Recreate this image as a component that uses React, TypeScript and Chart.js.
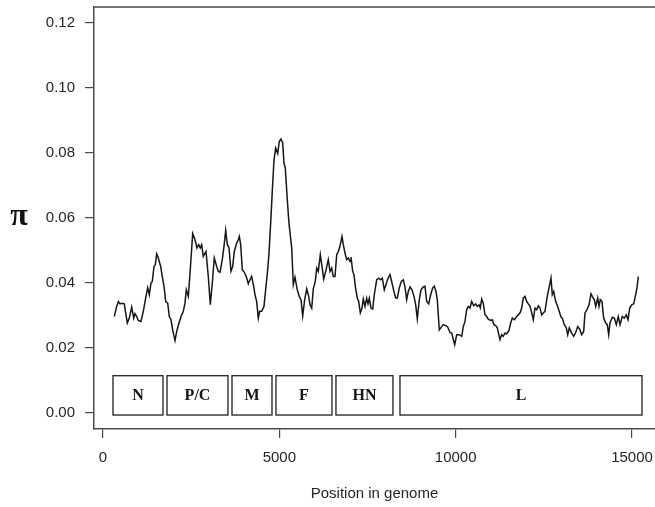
import React, { useEffect, useRef } from "react";
import { Chart, registerables } from "chart.js";

Chart.register(...registerables);

// Genome position (bp) of each sliding-window point
const positions = [
  320, 388, 434, 482, 530, 604, 644, 689, 746, 814,
  870, 907, 956, 1001, 1077, 1143, 1211, 1267, 1313, 1361,
  1398, 1446, 1483, 1523, 1568, 1636, 1681, 1730, 1778, 1835,
  1880, 1928, 1976, 2042, 2090, 2155, 2212, 2277, 2325, 2362,
  2419, 2475, 2543, 2609, 2665, 2714, 2759, 2799, 2844, 2921,
  2986, 3043, 3099, 3156, 3224, 3269, 3318, 3383, 3431, 3479,
  3525, 3573, 3629, 3678, 3723, 3791, 3836, 3865, 3905, 3950,
  4007, 4063, 4120, 4168, 4216, 4273, 4310, 4358, 4404, 4443,
  4500, 4565, 4622, 4670, 4707, 4755, 4800, 4849, 4897, 4954,
  4999, 5047, 5095, 5132, 5169, 5226, 5266, 5283, 5351, 5396,
  5444, 5509, 5566, 5614, 5663, 5719, 5776, 5833, 5869, 5918,
  5963, 6020, 6060, 6105, 6162, 6210, 6258, 6315, 6388, 6437,
  6485, 6530, 6578, 6627, 6672, 6720, 6777, 6814, 6862, 6910,
  6956, 7004, 7032, 7080, 7117, 7154, 7211, 7251, 7296, 7344,
  7381, 7429, 7477, 7514, 7551, 7599, 7647, 7693, 7761, 7818,
  7874, 7920, 7976, 8024, 8073, 8138, 8195, 8251, 8300, 8345,
  8402, 8458, 8515, 8563, 8611, 8657, 8705, 8762, 8818, 8867,
  8912, 8969, 9017, 9082, 9130, 9179, 9235, 9292, 9349, 9394,
  9442, 9479, 9536, 9604, 9649, 9717, 9774, 9839, 9888, 9933,
  9973, 10029, 10094, 10171, 10216, 10264, 10313, 10358, 10406, 10455,
  10511, 10568, 10613, 10661, 10698, 10738, 10783, 10832, 10880, 10925,
  10993, 11039, 11087, 11135, 11180, 11209, 11257, 11305, 11350, 11399,
  11447, 11512, 11560, 11606, 11663, 11731, 11776, 11833, 11872, 11918,
  11966, 12014, 12060, 12108, 12156, 12201, 12249, 12297, 12343, 12391,
  12439, 12485, 12533, 12590, 12646, 12703, 12740, 12780, 12836, 12893,
  12950, 12987, 13024, 13080, 13137, 13177, 13222, 13290, 13347, 13404,
  13460, 13517, 13574, 13630, 13667, 13724, 13781, 13837, 13874, 13931,
  13971, 14027, 14064, 14101, 14149, 14197, 14254, 14299, 14339, 14376,
  14441, 14498, 14555, 14611, 14660, 14725, 14782, 14838, 14887, 14935,
  14991, 15048, 15094, 15142, 15179,
];

// Nucleotide diversity (pi) at each position
const piValues = [
  0.0297, 0.0328, 0.0343, 0.0336, 0.0338, 0.0336, 0.0308, 0.0277, 0.0292, 0.0326,
  0.0292, 0.0306, 0.0297, 0.0285, 0.0282, 0.0313, 0.0354, 0.0385, 0.0364, 0.0400,
  0.0405, 0.0451, 0.0456, 0.0490, 0.0477, 0.0451, 0.0420, 0.0390, 0.0343, 0.0338,
  0.0297, 0.0287, 0.0256, 0.0223, 0.0251, 0.0277, 0.0297, 0.0313, 0.0338, 0.0379,
  0.0359, 0.0441, 0.0552, 0.0533, 0.0508, 0.0518, 0.0508, 0.0518, 0.0482, 0.0497,
  0.0420, 0.0333, 0.0400, 0.0477, 0.0451, 0.0436, 0.0433, 0.0472, 0.0513, 0.0562,
  0.0518, 0.0508, 0.0436, 0.0451, 0.0497, 0.0523, 0.0533, 0.0543, 0.0518, 0.0441,
  0.0433, 0.0420, 0.0398, 0.0410, 0.0420, 0.0390, 0.0364, 0.0343, 0.0292, 0.0313,
  0.0313, 0.0328, 0.0390, 0.0441, 0.0492, 0.0585, 0.0682, 0.0779, 0.0815, 0.0798,
  0.0836, 0.0843, 0.0831, 0.0769, 0.0754, 0.0656, 0.0595, 0.0574, 0.0508, 0.0395,
  0.0418, 0.0379, 0.0359, 0.0349, 0.0299, 0.0349, 0.0382, 0.0359, 0.0333, 0.0323,
  0.0382, 0.0405, 0.0446, 0.0436, 0.0487, 0.0451, 0.0412, 0.0436, 0.0472, 0.0436,
  0.0446, 0.0420, 0.0420, 0.0487, 0.0497, 0.0513, 0.0543, 0.0518, 0.0492, 0.0472,
  0.0477, 0.0466, 0.0480, 0.0436, 0.0426, 0.0390, 0.0354, 0.0343, 0.0308, 0.0323,
  0.0351, 0.0328, 0.0353, 0.0336, 0.0353, 0.0323, 0.0320, 0.0364, 0.0410, 0.0415,
  0.0410, 0.0415, 0.0379, 0.0395, 0.0412, 0.0426, 0.0400, 0.0374, 0.0354, 0.0354,
  0.0385, 0.0405, 0.0410, 0.0388, 0.0349, 0.0374, 0.0388, 0.0379, 0.0359, 0.0333,
  0.0290, 0.0349, 0.0379, 0.0388, 0.0390, 0.0343, 0.0336, 0.0364, 0.0385, 0.0390,
  0.0374, 0.0349, 0.0256, 0.0266, 0.0272, 0.0269, 0.0265, 0.0248, 0.0246, 0.0226,
  0.0210, 0.0241, 0.0241, 0.0236, 0.0266, 0.0282, 0.0318, 0.0328, 0.0323, 0.0343,
  0.0330, 0.0336, 0.0328, 0.0333, 0.0323, 0.0351, 0.0338, 0.0302, 0.0297, 0.0289,
  0.0285, 0.0287, 0.0272, 0.0269, 0.0262, 0.0248, 0.0226, 0.0241, 0.0236, 0.0246,
  0.0244, 0.0254, 0.0277, 0.0292, 0.0287, 0.0297, 0.0302, 0.0310, 0.0323, 0.0354,
  0.0359, 0.0343, 0.0336, 0.0328, 0.0308, 0.0287, 0.0323, 0.0318, 0.0330, 0.0323,
  0.0302, 0.0308, 0.0313, 0.0354, 0.0385, 0.0415, 0.0364, 0.0374, 0.0343, 0.0328,
  0.0308, 0.0295, 0.0292, 0.0272, 0.0262, 0.0241, 0.0262, 0.0246, 0.0236, 0.0248,
  0.0266, 0.0258, 0.0241, 0.0251, 0.0308, 0.0318, 0.0333, 0.0367, 0.0359, 0.0349,
  0.0328, 0.0354, 0.0328, 0.0349, 0.0343, 0.0292, 0.0277, 0.0272, 0.0241, 0.0277,
  0.0295, 0.0292, 0.0272, 0.0297, 0.0272, 0.0297, 0.0292, 0.0302, 0.0287, 0.0323,
  0.0333, 0.0336, 0.0359, 0.0385, 0.0420,
];

// Gene annotation boxes
const geneNames = ["N", "P/C", "M", "F", "HN", "L"];
const geneStarts = [284, 1815, 3658, 4905, 6606, 8421];
const geneEnds = [1701, 3544, 4792, 6493, 8222, 15283];
const geneBoxLow = -0.0006;
const geneBoxHigh = 0.0115;

// Axis ticks
const xTickValues = [0, 5000, 10000, 15000];
const yTickValues = [0, 0.02, 0.04, 0.06, 0.08, 0.1, 0.12];
const xRange = [-255, 15794];
const yRange = [-0.0049, 0.1249];

const SANS = '"Liberation Sans", Arial, Helvetica, sans-serif';
const SERIF = '"Liberation Serif", "Times New Roman", serif';
const AXIS_COLOR = "#4a4a4a";
const TEXT_COLOR = "#262626";

const decorPlugin = {
  id: "decor",
  afterDraw(chart: any) {
    const { ctx, chartArea, scales } = chart;
    const xs = scales.x;
    const ys = scales.y;
    ctx.save();
    // top frame line
    ctx.strokeStyle = AXIS_COLOR;
    ctx.lineWidth = 1.5;
    ctx.beginPath();
    ctx.moveTo(chartArea.left, chartArea.top);
    ctx.lineTo(chartArea.right, chartArea.top);
    ctx.stroke();

    // gene boxes
    const yTop = ys.getPixelForValue(geneBoxHigh);
    const yBot = ys.getPixelForValue(geneBoxLow);
    ctx.strokeStyle = "#2e2e2e";
    ctx.lineWidth = 1.4;
    ctx.fillStyle = "#151515";
    ctx.font = `bold 16px ${SERIF}`;
    ctx.textAlign = "center";
    ctx.textBaseline = "middle";
    geneNames.forEach((name, i) => {
      const x1 = xs.getPixelForValue(geneStarts[i]);
      const x2 = xs.getPixelForValue(geneEnds[i]);
      ctx.strokeRect(x1, yTop, x2 - x1, yBot - yTop);
      ctx.fillText(name, (x1 + x2) / 2, (yTop + yBot) / 2 + 1);
    });

    // pi axis label
    ctx.font = `bold 32px ${SERIF}`;
    ctx.fillStyle = "#111";
    ctx.fillText("\u03C0", 19, ys.getPixelForValue(0.06) - 1);
    ctx.restore();
  },
};

export default function App() {
  const canvasRef = useRef<HTMLCanvasElement | null>(null);

  useEffect(() => {
    const canvas = canvasRef.current;
    if (!canvas) return;
    const chart = new Chart(canvas, {
      type: "line",
      data: {
        datasets: [
          {
            data: positions.map((p, i) => ({ x: p, y: piValues[i] })),
            borderColor: "#161616",
            borderWidth: 1.5,
            pointRadius: 0,
            tension: 0,
            fill: false,
          },
        ],
      },
      options: {
        animation: false,
        responsive: false,
        devicePixelRatio: 1,
        layout: { padding: { top: 7, left: 0, right: 5, bottom: 0 } },
        plugins: {
          legend: { display: false },
          tooltip: { enabled: false },
        },
        scales: {
          x: {
            type: "linear",
            min: xRange[0],
            max: xRange[1],
            afterBuildTicks: (s: any) => {
              s.ticks = xTickValues.map((v) => ({ value: v }));
            },
            afterFit: (s: any) => {
              s.height = 78;
              s.paddingLeft = 0;
              s.paddingRight = 0;
            },
            grid: {
              drawOnChartArea: false,
              drawTicks: true,
              tickLength: 9,
              color: AXIS_COLOR,
              lineWidth: 1.2,
            },
            border: { display: true, color: AXIS_COLOR, width: 1.5 },
            ticks: {
              autoSkip: false,
              maxRotation: 0,
              padding: 11,
              color: TEXT_COLOR,
              font: { family: SANS, size: 15 },
              callback: (v: any) => String(v),
            },
            title: {
              display: false,
            },
          },
          y: {
            type: "linear",
            min: yRange[0],
            max: yRange[1],
            afterBuildTicks: (s: any) => {
              s.ticks = yTickValues.map((v) => ({ value: v }));
            },
            afterFit: (s: any) => {
              s.width = 94;
              s.paddingTop = 0;
              s.paddingBottom = 0;
            },
            grid: {
              drawOnChartArea: false,
              drawTicks: true,
              tickLength: 9,
              color: AXIS_COLOR,
              lineWidth: 1.2,
            },
            border: { display: true, color: AXIS_COLOR, width: 1.5 },
            ticks: {
              autoSkip: false,
              padding: 10,
              color: TEXT_COLOR,
              font: { family: SANS, size: 15 },
              callback: (v: any) => Number(v).toFixed(2),
            },
          },
        },
      },
      plugins: [
        decorPlugin,
        {
          id: "xtitle",
          afterDraw(chart: any) {
            const { ctx } = chart;
            ctx.save();
            ctx.font = `15px ${SANS}`;
            ctx.fillStyle = TEXT_COLOR;
            ctx.textAlign = "center";
            ctx.textBaseline = "middle";
            // centred under the visible plot region
            ctx.fillText("Position in genome", 374.5, 494);
            ctx.restore();
          },
        },
      ],
    });
    return () => chart.destroy();
  }, []);

  return (
    <div style={{ position: "fixed", left: 0, top: 0, width: 655, height: 507, background: "#fff", overflow: "hidden" }}>
      <canvas ref={canvasRef} width={665} height={507} style={{ display: "block" }} />
    </div>
  );
}
